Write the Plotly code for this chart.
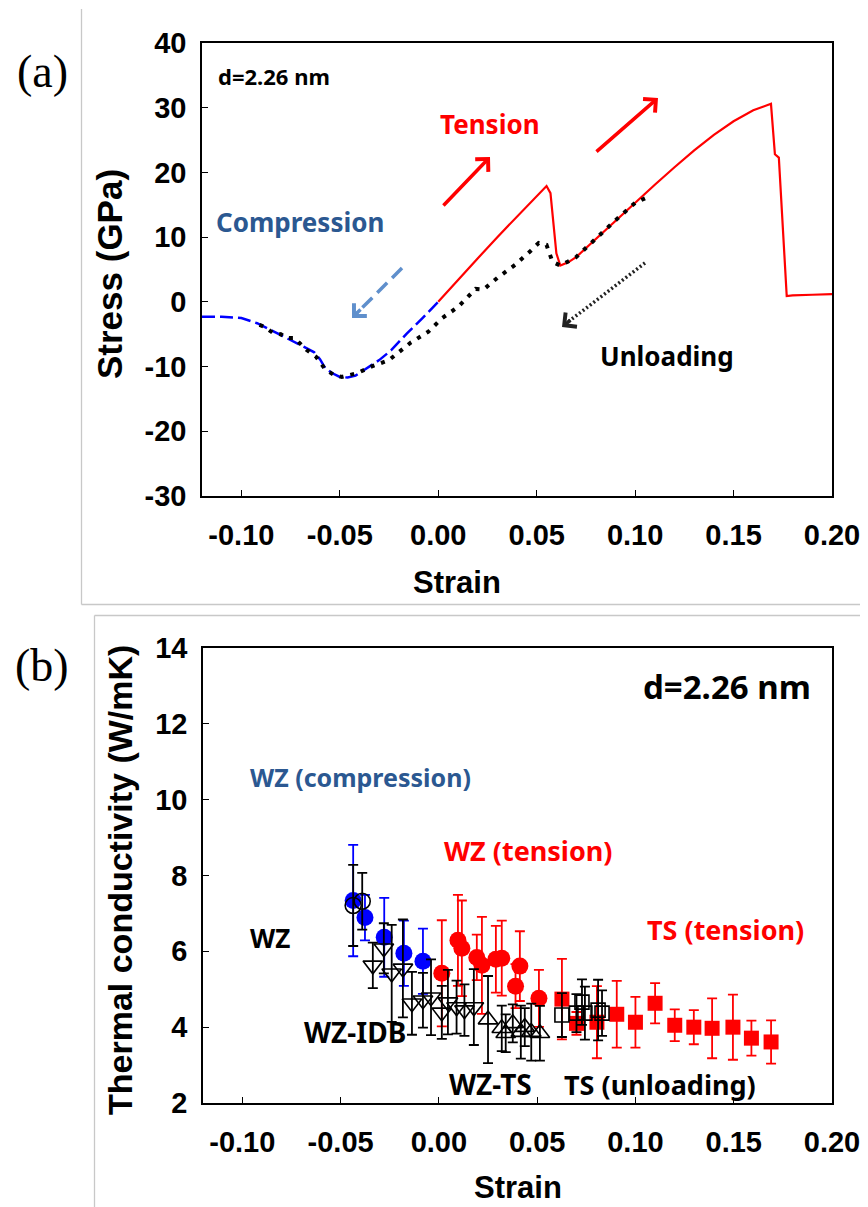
import plotly.graph_objects as go

# ---------------- Panel (a) data ----------------
comp_strain = [-0.120, -0.110, -0.100, -0.092, -0.086, -0.080, -0.075, -0.070, -0.066, -0.063,
               -0.060, -0.0575, -0.054, -0.050, -0.046, -0.042, -0.036, -0.030, -0.024, -0.016,
               -0.008, 0.000]
comp_stress = [-2.3, -2.3, -2.5, -3.3, -4.2, -5.1, -5.9, -6.7, -7.3, -7.8,
               -8.9, -10.2, -11.0, -11.6, -11.7, -11.4, -10.2, -9.0, -7.5, -4.9,
               -2.5, 0.0]

tens_strain = [0.000, 0.010, 0.020, 0.030, 0.040, 0.050, 0.055, 0.057, 0.058, 0.060,
               0.062, 0.066, 0.070, 0.080, 0.090, 0.100, 0.110, 0.120, 0.130, 0.140,
               0.150, 0.160, 0.165, 0.169, 0.171, 0.173, 0.177, 0.180, 0.190, 0.200]
tens_stress = [0.0, 3.4, 6.7, 10.0, 13.2, 16.4, 17.9, 16.8, 13.5, 7.5,
               5.6, 6.1, 6.9, 9.7, 12.6, 15.3, 18.1, 20.8, 23.4, 25.8,
               27.9, 29.6, 30.2, 30.6, 22.8, 22.3, 0.9, 1.0, 1.1, 1.2]

unl_strain = [0.105, 0.100, 0.090, 0.080, 0.070, 0.062, 0.058, 0.055, 0.051, 0.047,
              0.039, 0.030, 0.023, 0.019, 0.010, 0.002, -0.005, -0.014, -0.025, -0.034,
              -0.041, -0.049, -0.053, -0.0575, -0.062, -0.067, -0.070, -0.073, -0.077, -0.080,
              -0.084, -0.088, -0.093]
unl_stress = [16.0, 15.3, 12.6, 9.7, 6.9, 5.6, 6.2, 8.8, 9.1, 7.9,
              5.7, 3.7, 1.9, 2.0, -0.8, -2.5, -4.6, -6.3, -9.0, -10.0,
              -11.0, -11.6, -11.3, -10.4, -8.5, -7.4, -6.4, -5.6, -5.6, -5.0,
              -4.8, -3.9, -3.3]

# ---------------- Panel (b) data ----------------
wzc_x = [-0.0436, -0.0376, -0.0278, -0.0178, -0.0081]
wzc_y = [7.34, 6.89, 6.37, 5.95, 5.74]
wzc_e = [1.47, 0.60, 1.04, 0.86, 0.86]

wz_x = [-0.0436, -0.0390]
wz_y = [7.21, 7.32]
wz_e = [1.07, 0.75]

idb_x = [-0.0336, -0.0280, -0.0240, -0.0183, -0.0137, -0.0081, -0.0040, 0.0015, 0.0046, 0.0090, 0.0130, 0.0178]
idb_y = [5.63, 6.08, 5.42, 5.55, 4.63, 4.71, 4.79, 4.39, 4.66, 4.53, 4.45, 4.53]
idb_e = [0.60, 0.66, 1.28, 1.29, 0.83, 0.72, 1.00, 0.70, 0.85, 0.70, 0.68, 1.00]

wzts_x = [0.0250, 0.0320, 0.0340, 0.0376, 0.0417, 0.0437, 0.0470, 0.0514]
wzts_y = [4.20, 3.97, 3.84, 4.10, 3.87, 4.00, 3.87, 3.84]
wzts_e = [1.15, 0.60, 0.50, 0.50, 0.70, 0.50, 0.75, 0.72]

wzt_x = [0.0015, 0.0097, 0.0117, 0.0193, 0.0219, 0.0290, 0.0320, 0.0390, 0.0412, 0.0509]
wzt_y = [5.42, 6.29, 6.08, 5.84, 5.63, 5.79, 5.82, 5.08, 5.61, 4.76]
wzt_e = [1.40, 1.20, 1.26, 0.60, 1.28, 0.88, 0.99, 0.58, 0.92, 0.75]

tst_x = [0.0626, 0.0700, 0.0804, 0.0905, 0.1000, 0.1100, 0.1200, 0.1297, 0.1390, 0.1496, 0.1590, 0.1690]
tst_y = [4.74, 4.10, 4.13, 4.34, 4.13, 4.63, 4.05, 4.00, 3.97, 4.00, 3.71, 3.61]
tst_e = [1.06, 0.30, 0.95, 0.88, 0.67, 0.53, 0.42, 0.45, 0.79, 0.86, 0.46, 0.57]

tsu_x = [0.0626, 0.0700, 0.0728, 0.0743, 0.0810, 0.0830]
tsu_y = [4.32, 4.37, 4.66, 4.37, 4.45, 4.37]
tsu_e = [0.58, 0.50, 0.60, 0.70, 0.80, 0.60]

x_ticks = [-0.10, -0.05, 0.00, 0.05, 0.10, 0.15, 0.20]
x_tick_text = ["-0.10", "-0.05", "0.00", "0.05", "0.10", "0.15", "0.20"]
a_y_ticks = [-30, -20, -10, 0, 10, 20, 30, 40]
a_y_text = ["-30", "-20", "-10", "0", "10", "20", "30", "40"]
b_y_ticks = [2, 4, 6, 8, 10, 12, 14]
b_y_text = ["2", "4", "6", "8", "10", "12", "14"]

# The page body has an 8 px margin, so the figure is 8 px smaller and all
# target pixel positions are shifted by that offset.
OFF = 8
W, H = 868 - OFF, 1207 - OFF
def px(x):
    return (x - OFF) / W
def py(y):
    return 1 - (y - OFF) / H

RED = "#FF0000"
BLUE = "#0000FF"
DBLUE = "#2B5891"
LBLUE = "#5F8FCC"
TXT = "Noto Sans"
NUM = "Liberation Sans"
TICKFONT = dict(family=NUM, size=29, color="black", weight="bold")

fig = go.Figure()

# ---- panel (a) curves
fig.add_trace(go.Scatter(x=comp_strain, y=comp_stress, mode="lines",
                         line=dict(color=BLUE, width=2.5, dash="13px,5px"),
                         xaxis="x", yaxis="y", showlegend=False))
fig.add_trace(go.Scatter(x=tens_strain, y=tens_stress, mode="lines",
                         line=dict(color=RED, width=2.2),
                         xaxis="x", yaxis="y", showlegend=False))
fig.add_trace(go.Scatter(x=unl_strain, y=unl_stress, mode="lines",
                         line=dict(color="black", width=4, dash="4px,7px"),
                         xaxis="x", yaxis="y", showlegend=False))

# ---- panel (b) markers
def series(x, y, e, color, symbol, size, lw=1.6):
    return go.Scatter(x=x, y=y, mode="markers",
                      marker=dict(color=color, symbol=symbol, size=size,
                                  line=dict(color=color, width=lw)),
                      error_y=dict(type="data", array=e, visible=True, color=color,
                                   thickness=1.8, width=5),
                      xaxis="x2", yaxis="y2", showlegend=False)

fig.add_trace(series(wzc_x, wzc_y, wzc_e, BLUE, "circle", 17, 0))
fig.add_trace(series(wzt_x, wzt_y, wzt_e, RED, "circle", 17, 0))
fig.add_trace(series(tst_x, tst_y, tst_e, RED, "square", 15, 0))
fig.add_trace(series(wz_x, wz_y, wz_e, "black", "circle-open", 16))
fig.add_trace(series(idb_x, idb_y, idb_e, "black", "triangle-down-open", 17))
fig.add_trace(series(wzts_x, wzts_y, wzts_e, "black", "triangle-up-open", 17))
fig.add_trace(series(tsu_x, tsu_y, tsu_e, "black", "square-open", 14))

line_common = dict(showline=True, linecolor="black", linewidth=1.5, mirror=True,
                   ticks="inside", ticklen=6, tickwidth=1.3, tickcolor="black",
                   showgrid=False, zeroline=False, automargin=False, tickfont=TICKFONT)

xaxis_common = dict(range=[-0.12, 0.20], tickvals=x_ticks, ticktext=x_tick_text,
                    ticklabelstandoff=12, **line_common)

fig.update_layout(
    width=W, height=H,
    margin=dict(l=0, r=0, t=0, b=0, pad=0, autoexpand=False),
    paper_bgcolor="white", plot_bgcolor="white",
    xaxis=dict(domain=[px(202), px(832)], anchor="y", **xaxis_common),
    yaxis=dict(domain=[py(496), py(43)], anchor="x", range=[-30, 40],
               tickvals=a_y_ticks, ticktext=a_y_text, ticklabelstandoff=8, **line_common),
    xaxis2=dict(domain=[px(203), px(832)], anchor="y2", **xaxis_common),
    yaxis2=dict(domain=[py(1103), py(648)], anchor="x2", range=[2, 14],
                tickvals=b_y_ticks, ticktext=b_y_text, ticklabelstandoff=8, **line_common),
)

shapes = []
# gray panel frames
GRAY = dict(color="#C8C8C8", width=1.3)
shapes.append(dict(type="line", xref="paper", yref="paper", x0=px(81.5), x1=px(81.5), y0=py(9), y1=py(604.5), line=GRAY))
shapes.append(dict(type="line", xref="paper", yref="paper", x0=px(81.5), x1=1, y0=py(604.5), y1=py(604.5), line=GRAY))
shapes.append(dict(type="line", xref="paper", yref="paper", x0=px(94.5), x1=px(94.5), y0=py(615.5), y1=0, line=GRAY))
shapes.append(dict(type="line", xref="paper", yref="paper", x0=px(94.5), x1=1, y0=py(615.5), y1=py(615.5), line=GRAY))
# dashed blue arrow body and dotted black arrow body
shapes.append(dict(type="line", xref="paper", yref="paper", x0=px(402), y0=py(268), x1=px(357), y1=py(313),
                   line=dict(color=LBLUE, width=3.5, dash="14px,7px")))
shapes.append(dict(type="line", xref="paper", yref="paper", x0=px(645), y0=py(263), x1=px(568), y1=py(322),
                   line=dict(color="#222222", width=3.5, dash="2px,2.5px")))

annotations = []
def arrow(tx, ty, hx, hy, color, width):
    annotations.append(dict(x=px(hx), y=py(hy), xref="paper", yref="paper",
                            ax=tx - hx, ay=ty - hy, axref="pixel", ayref="pixel",
                            showarrow=True, arrowhead=4, arrowsize=1.0, arrowwidth=width,
                            arrowcolor=color, text=""))

arrow(442, 207, 490, 157, RED, 3.5)
arrow(595, 153, 658, 98, RED, 3.5)
arrow(362, 308, 352, 318, LBLUE, 3.5)
arrow(572, 319, 562, 327, "#222222", 3.5)

def label(text, cx, cy, size, color="black", family=TXT, angle=0, bold=True):
    annotations.append(dict(x=px(cx), y=py(cy), xref="paper", yref="paper", text=text,
                            showarrow=False, xanchor="center", yanchor="middle", textangle=angle,
                            font=dict(family=family, size=size, color=color,
                                      weight="bold" if bold else "normal")))

# panel letters
label("(a)", 42, 72, 46, family="Liberation Serif", bold=False)
label("(b)", 42, 665, 46, family="Liberation Serif", bold=False)

# axis titles
label("Stress (GPa)", 110, 274, 35, family=NUM, angle=-90)
label("Strain", 457, 582, 31, family=NUM)
label("Thermal conductivity (W/mK)", 120, 880, 34, family=NUM, angle=-90)
label("Strain", 518, 1187, 31, family=NUM)

# panel (a) texts
label("d=2.26 nm", 274, 76, 22)
label("Tension", 490, 124, 26, RED)
label("Compression", 300, 222, 26, DBLUE)
label("Unloading", 667, 356, 26)

# panel (b) texts
label("d=2.26 nm", 727, 686, 33)
label("WZ (compression)", 360, 777, 25, DBLUE)
label("WZ (tension)", 528, 850, 27, RED)
label("TS (tension)", 725, 929, 27, RED)
label("WZ", 270, 938, 26)
label("WZ-IDB", 355, 1032, 28)
label("WZ-TS", 490, 1084, 28)
label("TS (unloading)", 660, 1084, 27)

fig.update_layout(shapes=shapes, annotations=annotations)
fig.write_html("out.html")
